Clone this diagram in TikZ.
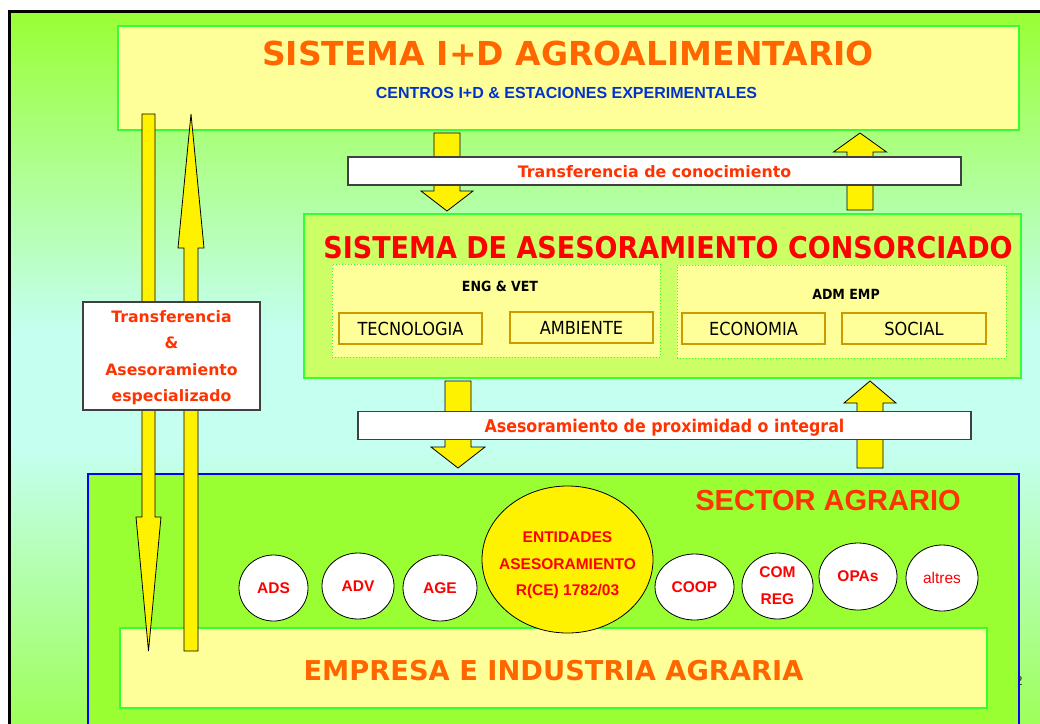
\documentclass[tikz,border=0pt]{standalone}
\usepackage{fontspec}
\usetikzlibrary{shapes.geometric,calc}
\newfontfamily\verd{DejaVu Sans}
\newfontfamily\taho{DejaVu Sans Condensed}
\newfontfamily\arial{Liberation Sans}
\definecolor{bgtop}{HTML}{99FF33}
\definecolor{bgmid}{HTML}{C4FFF0}
\definecolor{bgbot}{HTML}{99FF44}
\definecolor{paleyel}{HTML}{FFFF99}
\definecolor{limeg}{HTML}{CCFF66}
\definecolor{brdgreen}{HTML}{33FF33}
\definecolor{gold}{HTML}{CC9900}
\definecolor{orng}{HTML}{FF6600}
\definecolor{redor}{HTML}{FF3300}
\definecolor{darkblue}{HTML}{0033CC}
\definecolor{sectgreen}{HTML}{99FF33}
\pgfdeclareverticalshading{bgshade}{100bp}{color(0bp)=(bgbot); color(25bp)=(bgbot); color(45.7bp)=(bgmid); color(53.7bp)=(bgmid); color(75bp)=(bgtop); color(100bp)=(bgtop)}
\newcommand{\blockarrow}[5]{%
\draw[blockarr] let \p1=(#1), \p2=(#2), \p3=($(#2)!#5!(#1)$) in
  (\x1-#3pt,\y1) -- (\x1+#3pt,\y1) -- (\x1+#3pt,\y3) -- (\x1+#4pt,\y3) -- (\x2,\y2)
  -- (\x1-#4pt,\y3) -- (\x1-#3pt,\y3) -- cycle;}
\begin{document}
\begin{tikzpicture}[x=1pt,y=-1pt]
\tikzstyle{every node}+=[inner sep=0pt]
\tikzstyle{panel}=[draw=brdgreen, line width=1.5pt, fill=paleyel]
\tikzstyle{groupbox}=[draw=brdgreen, dotted, line width=1pt, fill=paleyel]
\tikzstyle{areabox}=[draw=gold, line width=2pt, fill=paleyel, text depth=0pt, font=\taho\fontsize{18}{18}\selectfont]
\tikzstyle{banner}=[draw=black!75, line width=1.2pt, fill=white, text=redor, text depth=0pt]
\tikzstyle{blockarr}=[draw=black, line width=0.8pt, fill=yellow, line join=miter]
\tikzstyle{entity}=[ellipse, draw=black, line width=0.8pt, fill=white, text=red, align=center, font=\arial\bfseries\fontsize{15.5}{27}\selectfont]
\useasboundingbox (0,0) rectangle (1040,723);
\clip (0,0) rectangle (1040,723);
\fill[white] (0,0) rectangle (1040,723);
\shadedraw[shading=bgshade, draw=black, line width=3pt] (9,11) rectangle (1062,762);
\node[font=\arial\fontsize{13}{13}\selectfont, text=black!80] (pgnum) at (1019,681) {2};
\node[draw=blue, line width=2pt, fill=sectgreen, minimum width=931, minimum height=296] (sector) at (553.5,622) {};
\node[font=\arial\bfseries\fontsize{29}{29}\selectfont, text=redor, anchor=base] (sectortxt) at (828,510) {SECTOR AGRARIO};
\node[panel, minimum width=867, minimum height=80] (empresa) at (553.5,668) {};
\node[font=\verd\bfseries\fontsize{27.3}{27.3}\selectfont, text=orng, anchor=base] (emptxt) at (553.5,680) {EMPRESA E INDUSTRIA AGRARIA};
\node[entity, minimum width=69, minimum height=66] (ads) at (273.5,588) {ADS};
\node[entity, minimum width=72, minimum height=66] (adv) at (358,586) {ADV};
\node[entity, minimum width=74, minimum height=66] (age) at (440,588) {AGE};
\node[entity, fill=yellow, minimum width=171, minimum height=147] (entid) at (567.5,559.5) {};
\node[text=red, align=center, font=\arial\bfseries\fontsize{15.5}{26.5}\selectfont] (entidtxt) at (567.5,565.5) {ENTIDADES\\ASESORAMIENTO\\R(CE) 1782/03};
\node[entity, minimum width=79, minimum height=66] (coop) at (694.5,587) {COOP};
\node[entity, minimum width=71, minimum height=66] (comreg) at (777.5,586) {COM\\REG};
\node[entity, minimum width=78, minimum height=67] (opas) at (858,576.5) {OPAs};
\node[entity, font=\arial\fontsize{15.5}{27}\selectfont, minimum width=72, minimum height=66] (altres) at (942,578) {altres};
\node[panel, minimum width=901, minimum height=104] (rdsys) at (568.5,78) {};
\node[font=\verd\bfseries\fontsize{33}{33}\selectfont, text=orng, anchor=base] (rdtitle) at (568,65) {SISTEMA I+D AGROALIMENTARIO};
\node[font=\arial\bfseries\fontsize{16}{16}\selectfont, text=darkblue, anchor=base] (rdsub) at (566.5,98) {CENTROS I+D \& ESTACIONES EXPERIMENTALES};
\node[panel, fill=limeg, minimum width=717, minimum height=164] (asys) at (662.5,296) {};
\node[font=\taho\bfseries\fontsize{30}{30}\selectfont, text=red, anchor=base] (atitle) at (668,258) {SISTEMA DE ASESORAMIENTO CONSORCIADO};
\node[groupbox, minimum width=328, minimum height=93] (engvet) at (496,310.5) {};
\node[groupbox, minimum width=329, minimum height=93] (admemp) at (841.5,311.5) {};
\node[font=\taho\bfseries\fontsize{14}{14}\selectfont, anchor=base] (engvettxt) at (500,291) {ENG \& VET};
\node[font=\taho\bfseries\fontsize{14}{14}\selectfont, anchor=base] (admemptxt) at (846,299) {ADM EMP};
\node[areabox, minimum width=143, minimum height=31] (tecno) at (410.5,328.5) {TECNOLOGIA};
\node[areabox, minimum width=143, minimum height=31] (ambient) at (581.5,327.5) {AMBIENTE};
\node[areabox, minimum width=143, minimum height=31] (econ) at (753.5,328.5) {ECONOMIA};
\node[areabox, minimum width=144, minimum height=31] (social) at (914,328.5) {SOCIAL};
\coordinate (dn1a) at (447,133);
\coordinate (dn1b) at (447,211);
\coordinate (up1a) at (860,210);
\coordinate (up1b) at (860,133);
\coordinate (dn2a) at (458,381);
\coordinate (dn2b) at (458,468);
\coordinate (up2a) at (870,468);
\coordinate (up2b) at (870,381);
\coordinate (ldna) at (148.5,114);
\coordinate (ldnb) at (148.5,651);
\coordinate (lupa) at (191,651);
\coordinate (lupb) at (191,114);
\blockarrow{dn1a}{dn1b}{13}{26}{20pt}
\blockarrow{up1a}{up1b}{13}{26.5}{19pt}
\blockarrow{dn2a}{dn2b}{13}{27}{21pt}
\blockarrow{up2a}{up2b}{13}{26}{22pt}
\blockarrow{ldna}{ldnb}{6.5}{12.5}{134pt}
\blockarrow{lupa}{lupb}{7}{13}{134pt}
\node[banner, minimum width=613, minimum height=28, font=\verd\bfseries\fontsize{15.8}{15.8}\selectfont] (tconoc) at (654.5,171) {Transferencia de conocimiento};
\node[banner, minimum width=613, minimum height=28, font=\taho\bfseries\fontsize{17.6}{17.6}\selectfont] (aprox) at (664.5,425.5) {Asesoramiento de proximidad o integral};
\node[banner, minimum width=177, minimum height=108, align=center, font=\verd\bfseries\fontsize{15.7}{26.5}\selectfont] (tespec) at (171.5,356) {Transferencia\\\&\\Asesoramiento\\especializado};
\end{tikzpicture}
\end{document}
